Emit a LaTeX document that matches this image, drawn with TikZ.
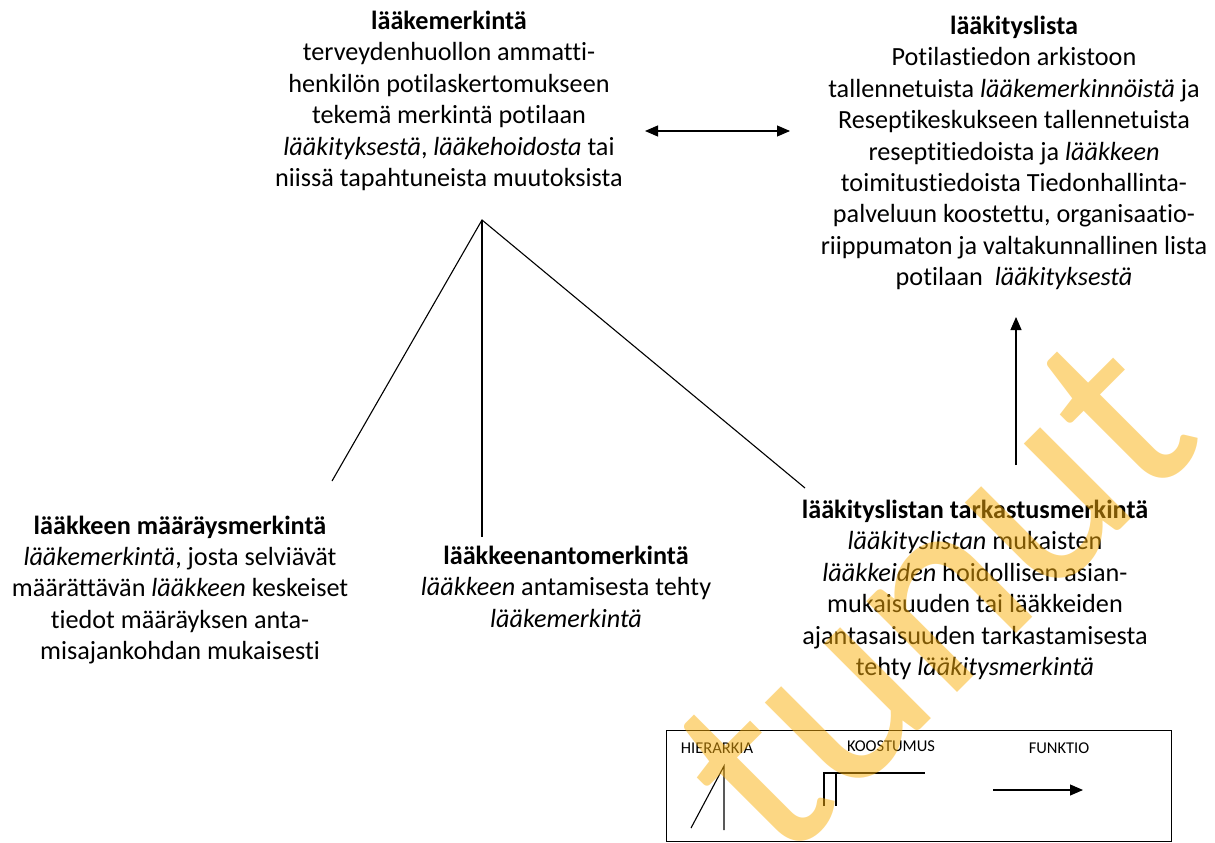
\documentclass[tikz,border=0pt]{standalone}
\usepackage{fontspec}
\setmainfont{Carlito}[Ligatures=NoCommon]
\usetikzlibrary{arrows.meta}
\definecolor{wmorange}{RGB}{250,175,10}
\begin{document}
\begin{tikzpicture}[x=1pt,y=-1pt,
  txt/.style={align=center, inner sep=0pt, anchor=north,
    font=\fontsize{26.2}{31.4}\selectfont},
  legtxt/.style={inner sep=0pt, font=\fontsize{16.5}{19}\selectfont},
  link/.style={line width=1.1pt, black},
  tipped/.style={-{Triangle[length=13pt,width=11pt]}},
  twotipped/.style={{Triangle[length=13pt,width=11pt]}-{Triangle[length=13pt,width=11pt]}},
  watermark/.style={inner sep=0pt, anchor=base west, rotate=45,
    text=wmorange, opacity=0.5, font=\fontsize{269}{269}\selectfont}]
\useasboundingbox (0,0) rectangle (1215,843);

% concept texts
\node[txt] (merk) at (449,11) {\textbf{lääkemerkintä}\\terveydenhuollon ammatti-\\henkilön potilaskertomukseen\\tekemä merkintä potilaan\\\textit{lääkityksestä}, \textit{lääkehoidosta} tai\\niissä tapahtuneista muutoksista};
\node[txt] (lista) at (1014,16) {\textbf{lääkityslista}\\Potilastiedon arkistoon\\tallennetuista \textit{lääkemerkinnöistä} ja\\Reseptikeskukseen tallennetuista\\reseptitiedoista ja \textit{lääkkeen}\\toimitustiedoista Tiedonhallinta-\\palveluun koostettu, organisaatio-\\riippumaton ja valtakunnallinen lista\\potilaan\ \ \textit{lääkityksestä}};
\node[txt] (maar) at (180,515.5) {\textbf{lääkkeen määräysmerkintä}\\\textit{lääkemerkintä}, josta selviävät\\määrättävän \textit{lääkkeen} keskeiset\\tiedot määräyksen anta-\\misajankohdan mukaisesti};
\node[txt] (anto) at (566,546) {\textbf{lääkkeenantomerkintä}\\\textit{lääkkeen} antamisesta tehty\\\textit{lääkemerkintä}};
\node[txt] (tark) at (975,500) {\textbf{lääkityslistan tarkastusmerkintä}\\\textit{lääkityslistan} mukaisten\\\textit{lääkkeiden} hoidollisen asian-\\mukaisuuden tai lääkkeiden\\ajantasaisuuden tarkastamisesta\\tehty \textit{lääkitysmerkintä}};

% connector end points
\coordinate (apex) at (482,220);
\coordinate (toMaar) at (332,481);
\coordinate (toAnto) at (482,537);
\coordinate (toTark) at (805,488);
\coordinate (pairL) at (645,131);
\coordinate (pairR) at (790,131);
\coordinate (upFrom) at (1016,465);
\coordinate (upTo) at (1016,317);

% hierarchy and functions
\draw[link] (toMaar) -- (apex) -- (toTark);
\draw[link] (apex) -- (toAnto);
\draw[link, twotipped] (pairL) -- (pairR);
\draw[link, tipped] (upFrom) -- (upTo);

% legend
\node[draw, line width=1.1pt, inner sep=0pt, minimum width=505pt,
  minimum height=111pt, anchor=north west] (legend) at (666,730) {};
\node[legtxt] (lh) at (717,748) {HIERARKIA};
\node[legtxt] (lk) at (891,746) {KOOSTUMUS};
\node[legtxt] (lf) at (1059,748) {FUNKTIO};
\coordinate (hTop) at (724,766);
\coordinate (hLeft) at (691,828);
\coordinate (hDown) at (724,830);
\draw[link] (hLeft) -- (hTop) -- (hDown);
\coordinate (kA) at (824,806);
\coordinate (kB) at (824,773);
\coordinate (kC) at (925,773);
\coordinate (kD) at (836,773);
\coordinate (kE) at (836,806);
\draw[link] (kA) -- (kB) -- (kC);
\draw[link] (kD) -- (kE);
\coordinate (fA) at (993,790);
\coordinate (fB) at (1083,790);
\draw[link, tipped] (fA) -- (fB);

% stamp over the sheet
\begin{scope}
\clip (0,0) rectangle (1215,843);
\node[watermark] (stamp) at (781,869) {tunut};
\end{scope}
\end{tikzpicture}
\end{document}
